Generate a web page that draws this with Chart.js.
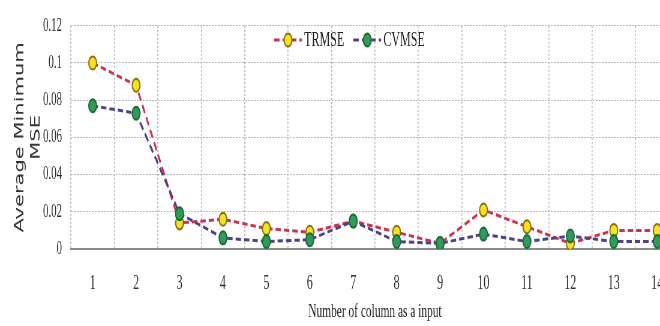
<!DOCTYPE html>
<html>
<head>
<meta charset="utf-8">
<script src="https://cdn.jsdelivr.net/npm/chart.js@4.4.1/dist/chart.umd.min.js"></script>
<style>
  html, body { margin: 0; padding: 0; background: #fff; }
  #frame { width: 660px; height: 326px; overflow: hidden; position: relative; }
  /* the figure is laid out wide and then compressed horizontally */
  #stretch { width: 1140px; height: 326px; transform: scaleX(0.6); transform-origin: 0 0; }
</style>
</head>
<body>
<div id="frame"><div id="stretch"><canvas id="c" width="1140" height="326"></canvas></div></div>
<script>
// Number of input columns
const columns = ['1', '2', '3', '4', '5', '6', '7', '8', '9', '10', '11', '12', '13', '14'];

// Average minimum training MSE per column count
const trmse = [0.100, 0.088, 0.014, 0.016, 0.011, 0.009, 0.015, 0.009, 0.003, 0.021, 0.012, 0.003, 0.010, 0.010];

// Average minimum cross-validation MSE per column count
const cvmse = [0.077, 0.073, 0.019, 0.006, 0.004, 0.005, 0.015, 0.004, 0.003, 0.008, 0.004, 0.007, 0.004, 0.004];

// Value axis labels, bottom to top
const yTickLabels = ['0', '0.02', '0.04', '0.06', '0.08', '0.1', '0.12'];

const seriesNames = ['TRMSE', 'CVMSE'];

// Key drawn inside the plot: dashed stroke with a marker, then the name
const keyPlugin = {
  id: 'seriesKey',
  afterDraw(chart) {
    const ctx = chart.ctx;
    const y = 40;
    const starts = [457, 589];
    chart.data.datasets.forEach((ds, i) => {
      const x0 = starts[i];
      ctx.save();
      ctx.strokeStyle = ds.borderColor;
      ctx.lineWidth = ds.borderWidth;
      ctx.setLineDash(ds.borderDash);
      ctx.beginPath();
      ctx.moveTo(x0, y);
      ctx.lineTo(x0 + 46, y);
      ctx.stroke();
      ctx.setLineDash([]);
      ctx.beginPath();
      ctx.arc(x0 + 23, y, ds.pointRadius, 0, Math.PI * 2);
      ctx.fillStyle = ds.pointBackgroundColor;
      ctx.fill();
      ctx.lineWidth = ds.pointBorderWidth;
      ctx.strokeStyle = ds.pointBorderColor;
      ctx.stroke();
      ctx.font = '20px "Liberation Serif"';
      ctx.fillStyle = '#222';
      ctx.textBaseline = 'middle';
      ctx.textAlign = 'left';
      ctx.fillText(ds.label, x0 + 50, y + 1);
      ctx.restore();
    });
  }
};

new Chart(document.getElementById('c'), {
  type: 'line',
  data: {
    labels: columns,
    datasets: [
      {
        label: seriesNames[0],
        data: trmse,
        order: 1,
        borderColor: '#cc3350',
        borderWidth: 3,
        borderDash: [9, 5],
        pointRadius: 6.5,
        pointBackgroundColor: '#f3e21c',
        pointBorderColor: '#8c6d17',
        pointBorderWidth: 2,
        tension: 0,
        fill: false
      },
      {
        label: seriesNames[1],
        data: cvmse,
        order: 0,
        borderColor: '#4d4285',
        borderWidth: 3,
        borderDash: [9, 5],
        pointRadius: 6.5,
        pointBackgroundColor: '#2f9b57',
        pointBorderColor: '#1d6a3a',
        pointBorderWidth: 2,
        tension: 0,
        fill: false
      }
    ]
  },
  options: {
    responsive: false,
    animation: false,
    devicePixelRatio: 1,
    layout: { padding: { top: 17, right: 4, left: 0, bottom: 0 } },
    plugins: {
      legend: { display: false },
      tooltip: { enabled: false }
    },
    scales: {
      x: {
        type: 'category',
        offset: true,
        grid: { display: true, offset: true, color: '#b4b4b4', lineWidth: 1.7, drawTicks: false },
        border: { display: true, color: '#8a8a8a', width: 2, dash: [2, 2] },
        ticks: {
          padding: 23,
          color: '#2e2e2e',
          font: { family: '"Liberation Serif"', size: 20 }
        },
        title: {
          display: true,
          text: 'Number of column as a input',
          color: '#222',
          font: { family: '"Liberation Serif"', size: 19 },
          padding: { top: 0, bottom: 3 }
        },
        afterFit(scale) { scale.width; scale.height = 77; }
      },
      y: {
        min: 0,
        max: 0.12,
        grid: { color: '#b4b4b4', lineWidth: 1, drawTicks: false },
        border: { display: false, dash: [3, 2] },
        ticks: {
          stepSize: 0.02,
          padding: 15,
          color: '#2e2e2e',
          font: { family: '"Liberation Serif"', size: 18 },
          callback: (value, index) => yTickLabels[index]
        },
        title: {
          display: true,
          text: ['Average Minimum', 'MSE'],
          color: '#333',
          font: { family: '"DejaVu Sans"', size: 21, lineHeight: 1.3 },
          padding: { top: 20, bottom: 0 }
        },
        afterFit(scale) { scale.width = 118.3; }
      }
    }
  },
  plugins: [keyPlugin]
});
</script>
</body>
</html>
